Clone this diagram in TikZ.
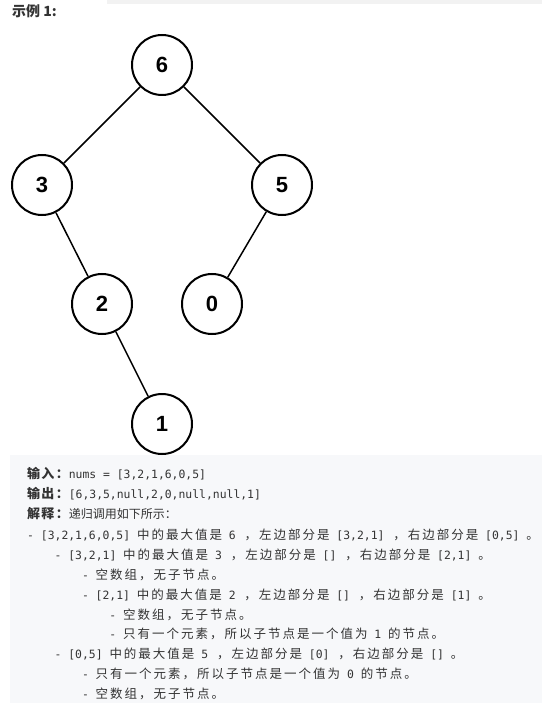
\documentclass[tikz,border=0pt]{standalone}
\usepackage{fontspec}
\setmainfont{DejaVu Sans Mono}
\newfontfamily\cjkf{Noto Sans CJK SC}
\newfontfamily\cjks{Noto Sans CJK SC}[LetterSpace=16]
\newfontfamily\cjkb{Noto Sans CJK SC}[LetterSpace=10]
\newfontfamily\arialf{Liberation Sans}
\newcommand{\C}[1]{{\fontsize{12.5}{14}\selectfont\cjks #1}}
\newcommand{\Cc}[1]{\hspace{2pt}{\fontsize{12.5}{14}\selectfont\cjks #1}}
\newcommand{\N}[1]{{\fontsize{12}{14}\selectfont\cjkf #1}}
\newcommand{\B}[1]{{\fontsize{13}{14}\selectfont\cjkb\bfseries #1}}
\definecolor{txtc}{HTML}{333333}
\definecolor{boxc}{HTML}{F7F8FA}
\definecolor{barc}{HTML}{F2F2F2}
\tikzset{
  tnode/.style={circle, draw, line width=2pt, minimum size=60pt, inner sep=0pt,
    font=\arialf\bfseries\fontsize{22}{22}\selectfont},
  tedge/.style={line width=1.5pt},
  txt/.style={anchor=base west, inner sep=0pt, text=txtc, font=\fontsize{11.4}{14}\selectfont},
}
\begin{document}
\begin{tikzpicture}[x=1pt,y=-1pt]
\useasboundingbox (0,0) rectangle (542,703);
\fill[white] (0,0) rectangle (542,703);
\fill[barc] (107,0) rectangle (542,4);
\fill[boxc] (10,455) rectangle (542,703);
\node[anchor=base west, inner sep=0pt, text=txtc, font=\fontsize{14}{16}\selectfont\cjkf\bfseries] (title) at (12,17) {示例 1:};
% tree
\node[tnode] (n6) at (162,65) {6};
\node[tnode] (n3) at (42,185) {3};
\node[tnode] (n5) at (282,185) {5};
\node[tnode] (n2) at (102,304) {2};
\node[tnode] (n0) at (212,304) {0};
\node[tnode] (n1) at (162,424) {1};
\draw[tedge] (n6) -- (n3);
\draw[tedge] (n6) -- (n5);
\draw[tedge] (n3) -- (n2);
\draw[tedge] (n2) -- (n1);
\draw[tedge] (n5) -- (n0);
% text
\node[txt] (l1) at (27,478) {\B{输入：}nums = [3,2,1,6,0,5]};
\node[txt] (l2) at (27,498) {\B{输出：}[6,3,5,null,2,0,null,null,1]};
\node[txt] (l3) at (27,518) {\B{解释：}\N{递归调用如下所示：}};
\node[txt] (l4) at (27,539) {- [3,2,1,6,0,5] \C{中的最大值是} 6 \Cc{，左边部分是} [3,2,1] \Cc{，右边部分是} [0,5] \C{。}};
\node[txt] (l5) at (54.4,559) {- [3,2,1] \C{中的最大值是} 3 \Cc{，左边部分是} [] \Cc{，右边部分是} [2,1] \C{。}};
\node[txt] (l6) at (81.8,579) {- \C{空数组，无子节点。}};
\node[txt] (l7) at (81.8,599) {- [2,1] \C{中的最大值是} 2 \Cc{，左边部分是} [] \Cc{，右边部分是} [1] \C{。}};
\node[txt] (l8) at (109.2,619) {- \C{空数组，无子节点。}};
\node[txt] (l9) at (109.2,638) {- \C{只有一个元素，所以子节点是一个值为} 1 \C{的节点。}};
\node[txt] (l10) at (54.4,658) {- [0,5] \C{中的最大值是} 5 \Cc{，左边部分是} [0] \Cc{，右边部分是} [] \C{。}};
\node[txt] (l11) at (81.8,678) {- \C{只有一个元素，所以子节点是一个值为} 0 \C{的节点。}};
\node[txt] (l12) at (81.8,698) {- \C{空数组，无子节点。}};
\end{tikzpicture}
\end{document}
